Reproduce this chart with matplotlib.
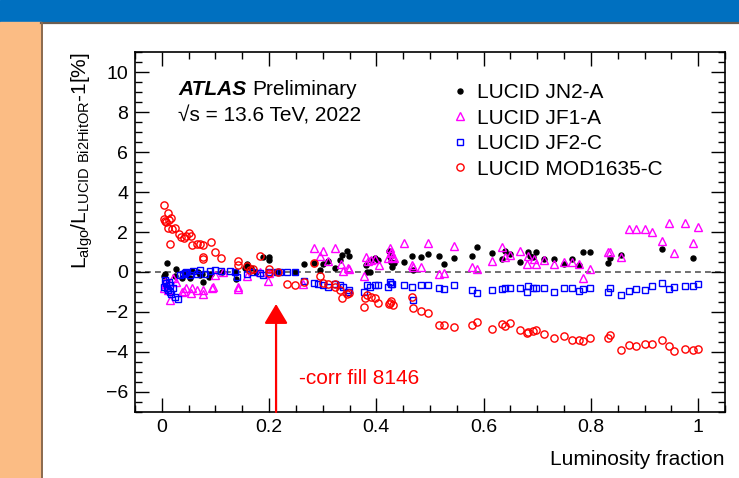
import numpy as np
import matplotlib
matplotlib.use("Agg")
import matplotlib.pyplot as plt
from matplotlib.patches import Rectangle
from matplotlib.lines import Line2D
from matplotlib.ticker import MultipleLocator

plt.rcParams['font.family'] = ['Liberation Sans', 'DejaVu Sans']
plt.rcParams['mathtext.default'] = 'regular'

# (luminosity fraction, L_algo/L_ref - 1 [%])
jn2a = np.array([
    (0.004, -0.18), (0.006, -0.12), (0.010, 0.43), (0.024, -0.18), (0.026, 0.15),
    (0.037, -0.28), (0.041, 0.00), (0.052, -0.32), (0.057, 0.05), (0.068, 0.02),
    (0.071, -0.15), (0.074, -0.10), (0.077, -0.50), (0.088, -0.27), (0.091, -0.10),
    (0.113, 0.00), (0.136, 0.00), (0.138, -0.35), (0.155, 0.20), (0.158, 0.42),
    (0.167, 0.20), (0.175, 0.00), (0.189, 0.75), (0.200, 0.77), (0.200, 0.60),
    (0.217, 0.00), (0.249, 0.00), (0.265, 0.40), (0.283, 0.43), (0.294, 0.10),
    (0.300, 0.38), (0.310, 0.55), (0.323, 0.22), (0.333, 0.60), (0.336, 0.85),
    (0.346, 1.05), (0.349, 0.82), (0.381, 0.35), (0.383, 0.00), (0.388, 0.00),
    (0.390, 0.60), (0.398, 0.68), (0.403, 0.60), (0.423, 1.05), (0.425, 0.77),
    (0.428, 0.52), (0.429, 0.27), (0.433, 0.43), (0.451, 0.52), (0.467, 0.82),
    (0.468, 0.10), (0.483, 0.77), (0.496, 0.90), (0.516, 0.82), (0.527, 0.38),
    (0.544, 0.72), (0.578, 0.82), (0.588, 1.23), (0.616, 0.93), (0.634, 0.63),
    (0.640, 1.03), (0.650, 0.88), (0.668, 0.52), (0.682, 0.98), (0.686, 0.80),
    (0.692, 0.73), (0.698, 0.98), (0.713, 0.65), (0.732, 0.65), (0.750, 0.40),
    (0.764, 0.63), (0.778, 0.35), (0.786, 0.98), (0.799, 1.02), (0.831, 0.43),
    (0.836, 0.68), (0.856, 0.85), (0.932, 1.15), (0.991, 0.68),
])

jf1a = np.array([
    (0.004, -0.82), (0.006, -0.48), (0.009, -0.62), (0.012, -0.90), (0.015, -1.40),
    (0.021, -0.32), (0.027, -0.50), (0.037, -1.00), (0.041, -0.97), (0.046, -0.82),
    (0.055, -1.07), (0.057, -0.82), (0.065, -0.90), (0.076, -1.10), (0.077, -0.90),
    (0.093, -0.82), (0.096, -0.73), (0.099, -0.15), (0.114, 0.00), (0.142, -0.73),
    (0.142, -0.85), (0.158, -0.18), (0.183, 0.00), (0.198, -0.43), (0.200, -0.05),
    (0.264, -0.62), (0.284, 1.22), (0.294, 0.82), (0.300, 1.05), (0.310, 0.55),
    (0.323, 1.22), (0.334, 0.38), (0.338, 0.05), (0.347, 0.18), (0.349, 0.15),
    (0.377, -0.18), (0.381, 0.77), (0.384, 0.55), (0.390, 0.60), (0.398, 0.65),
    (0.404, 0.35), (0.422, 0.68), (0.425, 1.22), (0.427, 0.93), (0.428, 1.02),
    (0.429, 0.77), (0.433, 0.68), (0.451, 1.43), (0.467, 0.35), (0.468, 0.27),
    (0.483, 0.27), (0.496, 1.43), (0.516, -0.10), (0.527, -0.05), (0.544, 1.28),
    (0.578, 0.25), (0.588, 0.17), (0.616, 0.57), (0.634, 1.23), (0.640, 0.75),
    (0.650, 0.87), (0.668, 1.07), (0.680, 0.40), (0.683, 0.80), (0.694, 0.63),
    (0.698, 0.40), (0.713, 0.60), (0.732, 0.40), (0.750, 0.50), (0.764, 0.52),
    (0.778, 0.38), (0.786, -0.28), (0.799, 0.15), (0.831, 0.98), (0.836, 0.98),
    (0.856, 0.73), (0.871, 2.13), (0.884, 2.13), (0.900, 2.13), (0.913, 2.02),
    (0.932, 1.55), (0.945, 2.47), (0.955, 0.93), (0.976, 2.43), (0.991, 1.43),
    (1.000, 2.23),
])

jf2c = np.array([
    (0.004, -0.73), (0.006, -0.40), (0.007, -0.57), (0.009, -0.82), (0.012, -0.90),
    (0.014, -0.48), (0.015, -0.98), (0.016, -0.65), (0.018, -1.08), (0.020, -0.82),
    (0.024, -1.23), (0.030, -1.35), (0.034, -0.15), (0.039, -0.10), (0.043, -0.07),
    (0.046, 0.00), (0.052, -0.15), (0.058, 0.05), (0.065, -0.12), (0.071, 0.12),
    (0.080, -0.12), (0.090, 0.05), (0.099, 0.08), (0.111, 0.05), (0.127, 0.05),
    (0.136, 0.00), (0.140, -0.23), (0.158, -0.12), (0.170, 0.00), (0.183, -0.07),
    (0.189, -0.15), (0.200, 0.02), (0.214, 0.00), (0.220, 0.00), (0.233, 0.00),
    (0.249, 0.00), (0.265, -0.43), (0.283, -0.55), (0.292, -0.62), (0.300, -0.65),
    (0.310, -0.73), (0.322, -0.62), (0.333, -0.65), (0.338, -0.73), (0.347, -0.98),
    (0.349, -0.90), (0.377, -0.98), (0.383, -0.65), (0.388, -0.73), (0.398, -0.65),
    (0.403, -0.65), (0.421, -0.73), (0.425, -0.50), (0.428, -0.62), (0.430, -0.60),
    (0.451, -0.65), (0.467, -0.75), (0.468, -1.40), (0.483, -0.65), (0.497, -0.65),
    (0.516, -0.82), (0.527, -0.87), (0.544, -0.65), (0.578, -0.90), (0.588, -1.03),
    (0.616, -0.90), (0.634, -0.87), (0.640, -0.78), (0.650, -0.78), (0.668, -0.82),
    (0.680, -0.98), (0.683, -0.68), (0.692, -0.82), (0.698, -0.78), (0.713, -0.78),
    (0.732, -1.02), (0.750, -0.82), (0.764, -0.78), (0.778, -0.95), (0.786, -0.87),
    (0.799, -0.78), (0.831, -0.98), (0.836, -0.78), (0.856, -1.15), (0.871, -0.97),
    (0.884, -0.87), (0.900, -0.90), (0.913, -0.70), (0.932, -0.53), (0.945, -0.87),
    (0.955, -0.75), (0.976, -0.70), (0.991, -0.70), (1.000, -0.62),
])

mod1635c = np.array([
    (0.004, 3.35), (0.011, 2.97), (0.004, 2.65), (0.006, 2.55), (0.008, 2.50),
    (0.013, 2.60), (0.017, 2.68), (0.012, 2.18), (0.019, 2.13), (0.024, 2.18),
    (0.015, 1.42), (0.032, 1.88), (0.036, 1.75), (0.042, 1.70), (0.046, 1.80),
    (0.050, 1.95), (0.055, 1.80), (0.057, 1.35), (0.065, 1.40), (0.072, 1.42),
    (0.077, 1.37), (0.091, 1.52), (0.077, 0.77), (0.077, 0.63), (0.100, 0.98),
    (0.111, 0.72), (0.142, 0.55), (0.142, 0.35), (0.158, 0.32), (0.164, 0.10),
    (0.170, 0.15), (0.183, 0.80), (0.200, 0.15), (0.200, -0.03), (0.217, -0.02),
    (0.233, -0.60), (0.249, -0.65), (0.265, -0.48), (0.283, 0.43), (0.294, -0.18),
    (0.300, -0.55), (0.310, -0.62), (0.322, -0.62), (0.323, -0.73), (0.333, -0.90),
    (0.336, -1.28), (0.346, -1.10), (0.349, -1.05), (0.377, -1.75), (0.378, -1.28),
    (0.383, -1.15), (0.390, -1.23), (0.398, -1.32), (0.403, -1.57), (0.423, -1.60),
    (0.425, -1.57), (0.428, -1.43), (0.431, -1.65), (0.467, -1.23), (0.468, -1.78),
    (0.483, -1.93), (0.496, -2.07), (0.516, -2.67), (0.527, -2.63), (0.544, -2.75),
    (0.578, -2.67), (0.588, -2.50), (0.616, -2.87), (0.634, -2.62), (0.640, -2.72),
    (0.650, -2.53), (0.668, -2.88), (0.680, -3.05), (0.683, -3.00), (0.692, -2.95),
    (0.698, -2.92), (0.713, -3.08), (0.732, -3.28), (0.750, -3.22), (0.764, -3.38),
    (0.778, -3.38), (0.786, -3.45), (0.799, -3.28), (0.831, -3.30), (0.836, -3.17),
    (0.856, -3.92), (0.871, -3.67), (0.884, -3.70), (0.900, -3.62), (0.913, -3.58),
    (0.932, -3.38), (0.945, -3.70), (0.955, -3.95), (0.976, -3.83), (0.991, -3.88),
    (1.000, -3.83),
])

labels = ['LUCID JN2-A', 'LUCID JF1-A', 'LUCID JF2-C', 'LUCID MOD1635-C']
corr_fill_x = 0.213

W, H = 739, 478
fig = plt.figure(figsize=(W / 100, H / 100), dpi=100)

# slide background: blue header, orange side strip, panel border
fig.add_artist(Rectangle((0, 1 - 22 / H), 1, 22 / H, transform=fig.transFigure,
                         color='#0070C0', zorder=0))
fig.add_artist(Rectangle((0, 0), 41 / W, 1 - 22 / H, transform=fig.transFigure,
                         color='#FBBC84', zorder=0))
fig.add_artist(Line2D([41 / W, 1], [1 - 23 / H, 1 - 23 / H], transform=fig.transFigure,
                      color='#6b5e52', lw=1.6, zorder=1))
fig.add_artist(Line2D([41.5 / W, 41.5 / W], [0, 1 - 23 / H], transform=fig.transFigure,
                      color='#8a6a4e', lw=1.4, zorder=1))

ax = fig.add_axes([135 / W, 66 / H, 590 / W, 360 / H])

ax.axhline(0, color='#555555', ls=(0, (3.5, 2.5)), lw=1.2, zorder=1)

ax.plot(jn2a[:, 0], jn2a[:, 1], 'o', ms=3.6, color='black', mec='black',
        label=labels[0], zorder=3)
ax.plot(jf1a[:, 0], jf1a[:, 1], '^', ms=5.2, mfc='none', mec='#FF00FF', mew=1.0,
        label=labels[1], zorder=3)
ax.plot(jf2c[:, 0], jf2c[:, 1], 's', ms=5, mfc='none', mec='#0000FF', mew=1.0,
        label=labels[2], zorder=3)
ax.plot(mod1635c[:, 0], mod1635c[:, 1], 'o', ms=5.2, mfc='none', mec='#FF0000', mew=1.0,
        label=labels[3], zorder=3)

# arrow marking the corrected fill
ax.annotate('', xy=(corr_fill_x, -1.6), xytext=(corr_fill_x, -7.0),
            arrowprops=dict(arrowstyle='-|>,head_width=0.45,head_length=0.75',
                            color='#FF0000', lw=1.6, mutation_scale=16,
                            shrinkA=0, shrinkB=0), zorder=4)
ax.text(0.256, -5.35, '-corr fill 8146', color='#FF0000', fontsize=15,
        va='center', ha='left')

ax.set_xlim(-0.05, 1.05)
ax.set_ylim(-7, 11)
ax.xaxis.set_major_locator(MultipleLocator(0.2))
ax.xaxis.set_minor_locator(MultipleLocator(0.05))
ax.yaxis.set_major_locator(MultipleLocator(2))
ax.yaxis.set_minor_locator(MultipleLocator(0.5))
ax.set_xticks([0, 0.2, 0.4, 0.6, 0.8, 1.0])
ax.set_xticklabels(['0', '0.2', '0.4', '0.6', '0.8', '1'])
ax.tick_params(which='both', direction='in', top=True, right=True, labelsize=14,
               width=1.0, pad=5)
ax.tick_params(which='major', length=10)
ax.tick_params(which='minor', length=5)
for sp in ax.spines.values():
    sp.set_linewidth(1.2)

ax.set_xlabel('Luminosity fraction', fontsize=15, loc='right', labelpad=10)
ax.set_ylabel(r'$L_{algo}/L_{LUCID\ Bi2HitOR}$-1[%]', fontsize=15, loc='top',
              labelpad=8)

t = ax.text(0.0734, 0.881, 'ATLAS', transform=ax.transAxes, fontsize=15,
            fontweight='bold', fontstyle='italic', va='baseline')
ax.annotate('Preliminary', xy=(1, 0), xycoords=t, xytext=(4, 0),
            textcoords='offset points', fontsize=15, va='bottom')
ax.text(0.0734, 0.806, '\u221As = 13.6 TeV, 2022', transform=ax.transAxes,
        fontsize=15, va='baseline')

ax.legend(loc='upper left', bbox_to_anchor=(0.533, 0.913), frameon=False,
          fontsize=15, handlelength=1.0, handletextpad=0.3, labelspacing=0.31,
          borderpad=0, borderaxespad=0)

fig.savefig('out.png', dpi=100)
